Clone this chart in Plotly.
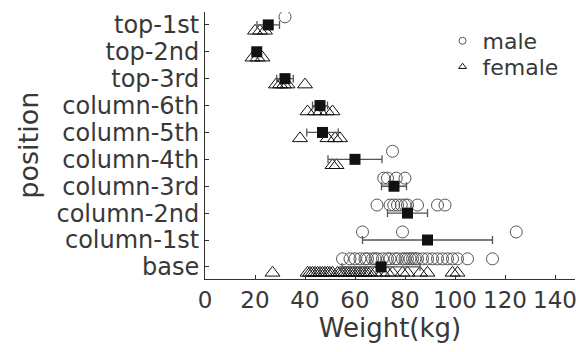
import plotly.graph_objects as go

categories = ["top-1st", "top-2nd", "top-3rd", "column-6th", "column-5th",
              "column-4th", "column-3rd", "column-2nd", "column-1st", "base"]

male_weights = [
    [32],
    [],
    [],
    [],
    [],
    [75],
    [71.5, 73, 76.5, 80],
    [68.8, 74, 75.5, 77, 78.5, 80, 81, 85, 93, 96],
    [63, 79, 124.5],
    [55, 58, 60, 62, 64, 65, 67, 68, 69, 71, 73, 74, 76, 77, 79, 80, 81, 82,
     83, 84, 85, 87, 89, 91, 93, 95, 97, 99, 101, 105, 115],
]

female_weights = [
    [20, 22, 24],
    [19, 21, 23],
    [28.4, 30, 31.6, 33, 40],
    [41, 44, 46, 48.8, 51],
    [38, 49, 52, 54],
    [51, 52.6],
    [],
    [],
    [],
    [27, 41, 42, 43, 44, 45, 46, 47, 48, 49, 50, 51, 53, 54, 55, 56, 57, 58,
     59, 60, 61, 62, 63, 64, 65, 66, 68, 71, 73, 75, 79, 81, 86, 89, 99, 101],
]

mean_weights = [25.3, 20.7, 32, 46, 47, 60, 75.6, 81, 89, 70.4]
error_weights = [4.5, 1.0, 3.3, 3, 6.3, 10.8, 5, 8, 26, 15.6]

x_ticks = [0, 20, 40, 60, 80, 100, 120, 140]

n = len(categories)
positions = [n - 1 - i for i in range(n)]
male_offset = 0.3
female_offset = -0.22

mx, my, fx, fy = [], [], [], []
for pos, ms, fs in zip(positions, male_weights, female_weights):
    for v in ms:
        mx.append(v)
        my.append(pos + male_offset)
    for v in fs:
        fx.append(v)
        fy.append(pos + female_offset)

FONT = "DejaVu Sans"
TXT = "#383838"

fig = go.Figure()
fig.add_trace(go.Scatter(
    x=mx, y=my, mode="markers", showlegend=False,
    marker=dict(symbol="circle-open", size=12, color="#555555", line=dict(width=1))))
fig.add_trace(go.Scatter(
    x=fx, y=fy, mode="markers", showlegend=False,
    marker=dict(symbol="triangle-up-open", size=13, color="#111111", line=dict(width=1))))
fig.add_trace(go.Scatter(
    x=mean_weights, y=positions, mode="markers", showlegend=False,
    marker=dict(symbol="square", size=11, color="#111111"),
    error_x=dict(type="data", array=error_weights, color="#555555", thickness=1.3, width=4)))

# legend entries
fig.add_trace(go.Scatter(x=[None], y=[None], mode="markers", name="male", legend="legend",
                         marker=dict(symbol="circle-open", size=7, color="#555555", line=dict(width=1))))
fig.add_trace(go.Scatter(x=[None], y=[None], mode="markers", name="female", legend="legend2",
                         marker=dict(symbol="triangle-up-open", size=7, color="#111111", line=dict(width=1))))

leg_common = dict(xanchor="left", yanchor="top", font=dict(size=22, color=TXT),
                  bgcolor="rgba(0,0,0,0)", itemsizing="trace")

fig.update_layout(
    width=576, height=352,
    margin=dict(l=205, r=1, t=12, b=73, autoexpand=False),
    plot_bgcolor="white", paper_bgcolor="white",
    font=dict(family=FONT, color=TXT),
    legend=dict(x=0.642, y=0.97, **leg_common),
    legend2=dict(x=0.642, y=0.873, **leg_common),
    annotations=[dict(text="position", xref="paper", yref="paper", x=-0.478, y=0.5,
                      xanchor="center", yanchor="middle", textangle=-90, showarrow=False,
                      font=dict(size=27, color=TXT))],
)
fig.update_xaxes(
    range=[0, 148], tickvals=x_ticks, ticks="inside", ticklen=4, tickcolor="#333333",
    showline=True, linecolor="#333333", linewidth=1, showgrid=False, zeroline=False,
    tickfont=dict(size=23, color=TXT), automargin=False, ticklabeloverflow="allow",
    title=dict(text="Weight(kg)", font=dict(size=26, color=TXT), standoff=4),
)
fig.update_yaxes(
    range=[-0.45, 9.48], tickvals=positions, ticktext=categories, ticks="inside",
    ticklen=4, tickcolor="#333333",
    showline=True, linecolor="#333333", linewidth=1, showgrid=False, zeroline=False,
    tickfont=dict(size=24, color=TXT), automargin=False,
)

fig.write_html("out.html")
